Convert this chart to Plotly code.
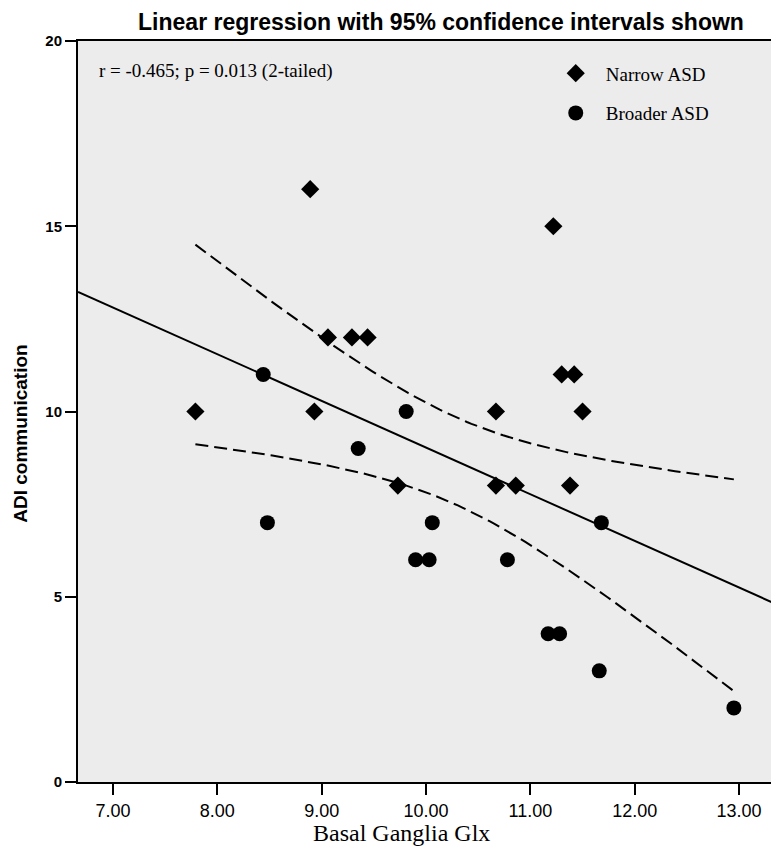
import numpy as np
import plotly.graph_objects as go

# ---- data ----
narrow_x = [7.79, 8.89, 8.93, 9.06, 9.29, 9.44, 9.73, 10.67, 10.67, 10.86, 11.22, 11.30, 11.42, 11.38, 11.50]
narrow_y = [10, 16, 10, 12, 12, 12, 8, 10, 8, 8, 15, 11, 11, 8, 10]
broad_x = [8.44, 8.48, 9.35, 9.81, 9.90, 10.03, 10.06, 10.78, 11.17, 11.28, 11.68, 11.66, 12.95]
broad_y = [11, 7, 9, 10, 6, 6, 7, 6, 4, 4, 7, 3, 2]

x_ticks = [7, 8, 9, 10, 11, 12, 13]
y_ticks = [0, 5, 10, 15, 20]
x_range = [6.665, 13.325]
y_range = [0, 20]

title_text = "Linear regression with 95% confidence intervals shown"
stat_text = "r = -0.465; p = 0.013 (2-tailed)"
x_title = "Basal Ganglia Glx"
y_title = "ADI communication"
t_crit = 2.056  # t(0.975, df=26)

# ---- regression and 95% CI of mean ----
xa = np.array(narrow_x + broad_x, dtype=float)
ya = np.array(narrow_y + broad_y, dtype=float)
n = len(xa)
xbar = xa.mean()
sxx = ((xa - xbar) ** 2).sum()
b1 = ((xa - xbar) * (ya - ya.mean())).sum() / sxx
b0 = ya.mean() - b1 * xbar
resid = ya - (b0 + b1 * xa)
s = np.sqrt((resid ** 2).sum() / (n - 2))

xl = np.array(x_range)
xc = np.linspace(xa.min(), xa.max(), 120)
yc = b0 + b1 * xc
half = t_crit * s * np.sqrt(1.0 / n + (xc - xbar) ** 2 / sxx)

serif = "Liberation Serif, Times New Roman, serif"
sans = "Liberation Sans, Arial, sans-serif"

fig = go.Figure()
fig.add_trace(go.Scatter(x=xl, y=b0 + b1 * xl, mode="lines",
                         line=dict(color="black", width=2), showlegend=False, hoverinfo="skip"))
fig.add_trace(go.Scatter(x=xc, y=yc + half, mode="lines",
                         line=dict(color="black", width=2, dash="13px,6px"), showlegend=False, hoverinfo="skip"))
fig.add_trace(go.Scatter(x=xc, y=yc - half, mode="lines",
                         line=dict(color="black", width=2, dash="13px,6px"), showlegend=False, hoverinfo="skip"))
fig.add_trace(go.Scatter(x=narrow_x, y=narrow_y, mode="markers", name="Narrow ASD",
                         legendgroup="a",
                         marker=dict(symbol="diamond", size=14, color="black")))
fig.add_trace(go.Scatter(x=broad_x, y=broad_y, mode="markers", name="Broader ASD",
                         legendgroup="b",
                         marker=dict(symbol="circle", size=15, color="black")))

# the page body adds an 8px offset, so the figure is 8px smaller on each axis
fig.update_layout(
    width=771, height=848,
    margin=dict(l=70, r=6, t=33, b=74, autoexpand=False),
    paper_bgcolor="white",
    plot_bgcolor="#ececec",
    title=dict(text="<b>" + title_text + "</b>", xref="container", x=0.5616, xanchor="center",
               yref="container", y=0.984, yanchor="middle",
               font=dict(family=sans, size=23, color="black")),
    showlegend=True,
    legend=dict(x=0.673, y=0.982, xanchor="left", yanchor="top", bgcolor="rgba(0,0,0,0)",
                font=dict(family=serif, size=19, color="black"), itemsizing="trace",
                itemwidth=50, tracegroupgap=12),
    annotations=[
        dict(text=stat_text, xref="paper", yref="paper", x=0.027, y=0.959,
             xanchor="left", yanchor="middle", showarrow=False,
             font=dict(family=serif, size=19, color="black")),
        dict(text=x_title, xref="paper", yref="paper", x=(401 - 78) / 695, y=(782 - 833) / 741,
             xanchor="center", yanchor="middle", showarrow=False,
             font=dict(family=serif, size=24, color="black")),
        dict(text="<b>" + y_title + "</b>", xref="paper", yref="paper", x=-0.082, y=0.47,
             xanchor="center", yanchor="middle", showarrow=False, textangle=-90,
             font=dict(family=sans, size=19, color="black")),
    ],
)
fig.update_xaxes(range=x_range, tickvals=x_ticks, tickformat=".2f",
                 ticks="outside", ticklen=11, tickwidth=2, tickcolor="black",
                 showline=True, linecolor="black", linewidth=2, mirror=True,
                 showgrid=False, zeroline=False, automargin=False,
                 tickfont=dict(family=sans, size=18, color="black"))
fig.update_yaxes(range=y_range, tickvals=y_ticks,
                 ticks="outside", ticklen=11, tickwidth=2, tickcolor="black",
                 showline=True, linecolor="black", linewidth=2, mirror=True,
                 showgrid=False, zeroline=False, automargin=False,
                 tickfont=dict(family=sans, size=15, color="black", weight="bold"))

fig.write_html("out.html")
